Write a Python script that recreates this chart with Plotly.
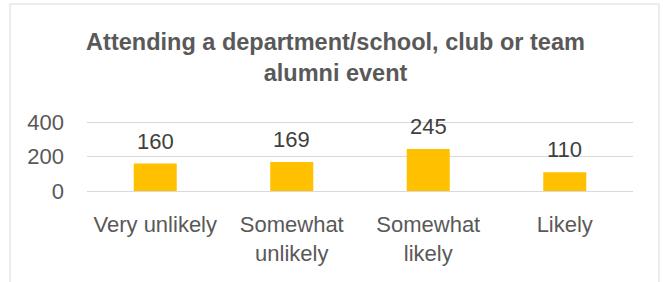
import plotly.graph_objects as go

categories = ["Very unlikely", "Somewhat<br>unlikely", "Somewhat<br>likely", "Likely"]
values = [160, 169, 245, 110]
y_ticks = [0, 200, 400]
title_text = "Attending a department/school, club or team<br>alumni event"

FONT = "Liberation Sans"
TXT = "#595959"

W, H = 663, 282
L, R, T, B = 87, 30, 119, 91
pw, ph = W - L - R, H - T - B

fig = go.Figure()
fig.add_trace(go.Bar(
    x=categories, y=values,
    marker=dict(color="#FFC000", line=dict(width=0)),
    hoverinfo="skip",
))

for c, v in zip(categories, values):
    fig.add_annotation(x=c, y=v, text=str(v), showarrow=False,
                       yanchor="bottom", yshift=8,
                       font=dict(family=FONT, size=22, color="#404040"))

fig.add_shape(type="rect", xref="paper", yref="paper",
              x0=(10 - L) / pw, x1=(659 - L) / pw,
              y0=-3, y1=(H - B - 4) / ph,
              line=dict(color="#d9d9d9", width=1), fillcolor="rgba(0,0,0,0)",
              layer="below")

fig.update_layout(
    width=W, height=H,
    margin=dict(l=L, r=R, t=T, b=B, autoexpand=False),
    paper_bgcolor="white", plot_bgcolor="white",
    bargap=0.685,
    showlegend=False,
    title=dict(text="<b>" + title_text + "</b>", x=335.5 / W, xanchor="center",
               y=(H - 50) / H, yanchor="middle", yref="container",
               font=dict(family=FONT, size=23.5, color=TXT)),
    font=dict(family=FONT, size=22, color=TXT),
)
fig.update_xaxes(showline=False, ticks="", showgrid=False, automargin=False,
                 ticklabelstandoff=18,
                 tickfont=dict(family=FONT, size=22, color=TXT))
fig.update_yaxes(range=[0, 420], tickvals=y_ticks, showgrid=True,
                 gridcolor="#d9d9d9", gridwidth=1, zeroline=True,
                 zerolinecolor="#d9d9d9", zerolinewidth=1, showline=False,
                 ticks="", ticklabelstandoff=22, automargin=False,
                 tickfont=dict(family=FONT, size=22, color=TXT))

fig.write_html("out.html", config={"displayModeBar": False},
               post_script="document.body.style.margin='0';document.body.style.overflow='hidden';")
